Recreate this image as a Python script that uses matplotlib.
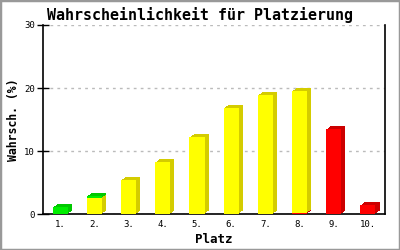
import matplotlib
matplotlib.use('Agg')
import matplotlib.pyplot as plt
from matplotlib.patches import Rectangle
import numpy as np

# Wahrscheinlichkeit je Platz (%), gestapelt: rot unten, gelb, gruen oben
plaetze = ['1.', '2.', '3.', '4.', '5.', '6.', '7.', '8.', '9.', '10.']
rot = [0, 0, 0, 0, 0, 0, 0, 0.2, 13.5, 1.5]
gelb = [0, 2.6, 5.5, 8.35, 12.25, 16.85, 18.9, 19.3, 0, 0]
gruen = [1.2, 0.3, 0, 0, 0, 0, 0, 0, 0, 0]

farben = [('#ff0000', '#cc0000'), ('#ffff00', '#d4cc00'), ('#00ee00', '#00c800')]

plt.rcParams['font.family'] = 'DejaVu Sans Mono'

fig = plt.figure(figsize=(4, 2.5), dpi=100)
ax = fig.add_axes([0.108, 0.143, 0.8545, 0.757])

x = np.arange(1, len(plaetze) + 1)
breite = 0.44
dx = 0.12   # Tiefe nach rechts
dy = 0.47   # Tiefe nach oben

unten = np.zeros(len(plaetze))
for werte, (vorne, seite) in zip([rot, gelb, gruen], farben):
    werte = np.array(werte, dtype=float)
    maske = werte > 0
    # 3D-Seite in Stufen
    for k in (1, 2, 3):
        ax.bar(x[maske] + dx * k / 3, werte[maske], breite, bottom=unten[maske] + dy * k / 3,
               color=seite, linewidth=0, zorder=2)
    ax.bar(x[maske], werte[maske], breite, bottom=unten[maske], color=vorne, linewidth=0, zorder=3)
    unten = unten + werte

ax.set_xlim(0.5, 10.5)
ax.set_ylim(0, 30)
ax.set_yticks([0, 10, 20, 30])
ax.set_xticks(x)
ax.set_xticklabels(plaetze)
ax.tick_params(axis='y', direction='inout', length=8, width=1, labelsize=6.5, pad=2)
ax.tick_params(axis='x', length=0, labelsize=6.5, pad=4)
ax.yaxis.grid(True, color='#bbbbbb', linestyle=(0, (2, 3)), linewidth=1)
ax.set_axisbelow(True)
ax.spines['top'].set_visible(False)
for s in ('left', 'bottom', 'right'):
    ax.spines[s].set_linewidth(1.2)
    ax.spines[s].set_color('black')

ax.set_xlabel('Platz', fontsize=9, fontweight='bold', labelpad=3)
ax.set_ylabel('Wahrsch. (%)', fontsize=8.3, fontweight='bold', labelpad=3)
fig.text(0.5, 0.94, 'Wahrscheinlichkeit für Platzierung', fontsize=10.8, fontweight='bold',
         ha='center', va='center')

# grauer Rahmen
fig.patches.append(Rectangle((0, 0), 1, 1, transform=fig.transFigure, fill=False,
                             edgecolor='#999999', linewidth=2.5))

fig.savefig('out.png', dpi=100)
